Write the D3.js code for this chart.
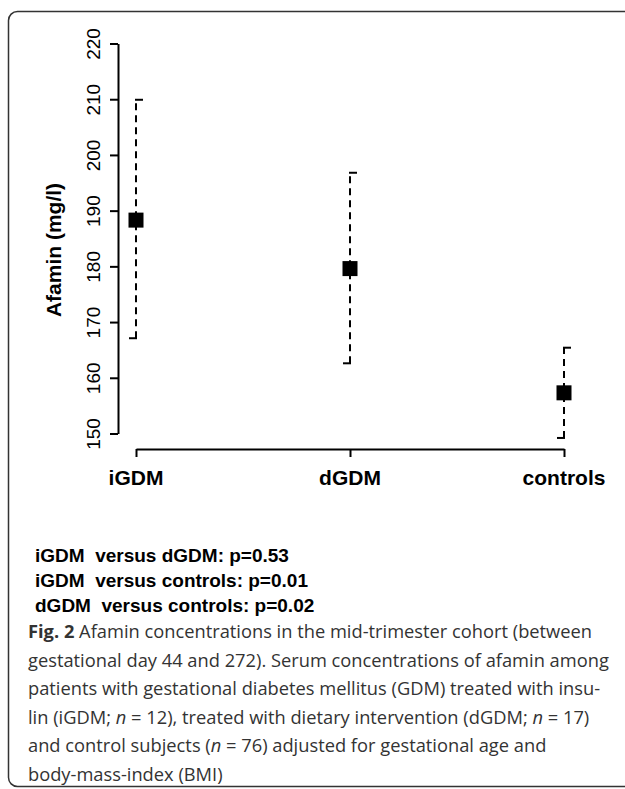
<!DOCTYPE html>
<html lang="en">
<head>
    <meta charset="UTF-8">
    <title>Afamin - mid-trimester cohort</title>
    <style>
        body { margin: 0; background: #fff; }
        svg text { font-family: "Liberation Sans", Arial, sans-serif; }
        .tick text { font-size: 19px; fill: #000; }
        .cat-label { font-size: 21px; font-weight: bold; }
        .axis-label { font-size: 21px; font-weight: bold; }
        .stat { font-size: 19px; font-weight: bold; white-space: pre; }
        .caption { font-family: "Open Sans", sans-serif; font-size: 18.3px; fill: #333; }
    </style>
</head>
<body>
    <svg width="625" height="789"></svg>

    <script src="https://d3js.org/d3.v7.min.js"></script>
    <script>

        // Data
        const groups = ['iGDM', 'dGDM', 'controls'];
        const means = [188.3, 179.6, 157.3];
        const lower = [167.1, 162.6, 149.2];
        const upper = [209.9, 196.8, 165.4];
        const yTicks = [150, 160, 170, 180, 190, 200, 210, 220];

        const stats = [
            'iGDM  versus dGDM: p=0.53',
            'iGDM  versus controls: p=0.01',
            'dGDM  versus controls: p=0.02'
        ];

        const svg = d3.select('svg');

        // rounded frame around figure + caption (right edge runs off the page)
        svg.append('rect')
            .attr('x', 8.5).attr('y', 11.5)
            .attr('width', 660).attr('height', 775)
            .attr('rx', 9)
            .attr('fill', 'none')
            .attr('stroke', '#333')
            .attr('stroke-width', 1.5);

        const xScale = d3.scalePoint().domain(groups).range([136, 564]);
        const yScale = d3.scaleLinear().domain([150, 220]).range([433.5, 43.5]);

        // y axis
        const yAxisG = svg.append('g')
            .attr('transform', 'translate(118,0)')
            .call(d3.axisLeft(yScale).tickValues(yTicks).tickSize(8).tickSizeOuter(0));

        yAxisG.selectAll('path, line').attr('stroke', '#000').attr('stroke-width', 2);
        yAxisG.selectAll('.tick text')
            .attr('x', null).attr('dy', null)
            .attr('text-anchor', 'middle')
            .attr('transform', 'translate(-18,0) rotate(-90)');

        svg.append('text')
            .attr('class', 'axis-label')
            .attr('text-anchor', 'middle')
            .attr('transform', 'translate(61,250) rotate(-90)')
            .text('Afamin (mg/l)');

        // x axis
        const xAxisG = svg.append('g')
            .attr('transform', 'translate(0,449)')
            .call(d3.axisBottom(xScale).tickSize(8).tickSizeOuter(0).tickFormat(''));

        xAxisG.selectAll('path, line').attr('stroke', '#000').attr('stroke-width', 2);

        svg.selectAll('.cat-label')
            .data(groups)
            .enter()
            .append('text')
            .attr('class', 'cat-label')
            .attr('x', d => xScale(d))
            .attr('y', 485)
            .attr('text-anchor', 'middle')
            .text(d => d);

        // error bars
        const bars = svg.append('g');
        const capW = 7;

        groups.forEach(function (g, i) {
            const x = xScale(g);
            bars.append('line')
                .attr('x1', x).attr('x2', x)
                .attr('y1', yScale(lower[i])).attr('y2', yScale(upper[i]))
                .attr('stroke', '#000').attr('stroke-width', 2)
                .attr('stroke-dasharray', '7,5');
            // top cap goes right, bottom cap goes left
            bars.append('line')
                .attr('x1', x - 1).attr('x2', x + capW)
                .attr('y1', yScale(upper[i])).attr('y2', yScale(upper[i]))
                .attr('stroke', '#000').attr('stroke-width', 2);
            bars.append('line')
                .attr('x1', x - capW).attr('x2', x + 1)
                .attr('y1', yScale(lower[i])).attr('y2', yScale(lower[i]))
                .attr('stroke', '#000').attr('stroke-width', 2);
        });

        // mean squares
        const sq = 15;
        svg.selectAll('.mean')
            .data(groups)
            .enter()
            .append('rect')
            .attr('class', 'mean')
            .attr('x', d => xScale(d) - sq / 2)
            .attr('y', (d, i) => yScale(means[i]) - sq / 2)
            .attr('width', sq).attr('height', sq)
            .attr('fill', '#000');

        // p-values
        svg.selectAll('.stat')
            .data(stats)
            .enter()
            .append('text')
            .attr('class', 'stat')
            .attr('x', 35)
            .attr('y', (d, i) => 562 + i * 25)
            .text(d => d);

        // caption
        const caption = [
            [['b', 'Fig. 2'], ['', ' Afamin concentrations in the mid-trimester cohort (between']],
            [['', 'gestational day 44 and 272). Serum concentrations of afamin among']],
            [['', 'patients with gestational diabetes mellitus (GDM) treated with insu-']],
            [['', 'lin (iGDM; '], ['i', 'n'], ['', ' = 12), treated with dietary intervention (dGDM; '], ['i', 'n'], ['', ' = 17)']],
            [['', 'and control subjects ('], ['i', 'n'], ['', ' = 76) adjusted for gestational age and']],
            [['', 'body-mass-index (BMI)']]
        ];

        caption.forEach(function (parts, i) {
            const t = svg.append('text')
                .attr('class', 'caption')
                .attr('x', 28)
                .attr('y', 638 + i * 28.5);
            parts.forEach(function (p) {
                const s = t.append('tspan').text(p[1]);
                if (p[0] === 'b') s.attr('font-weight', 'bold');
                if (p[0] === 'i') s.attr('font-style', 'italic');
            });
        });

    </script>
</body>
</html>
